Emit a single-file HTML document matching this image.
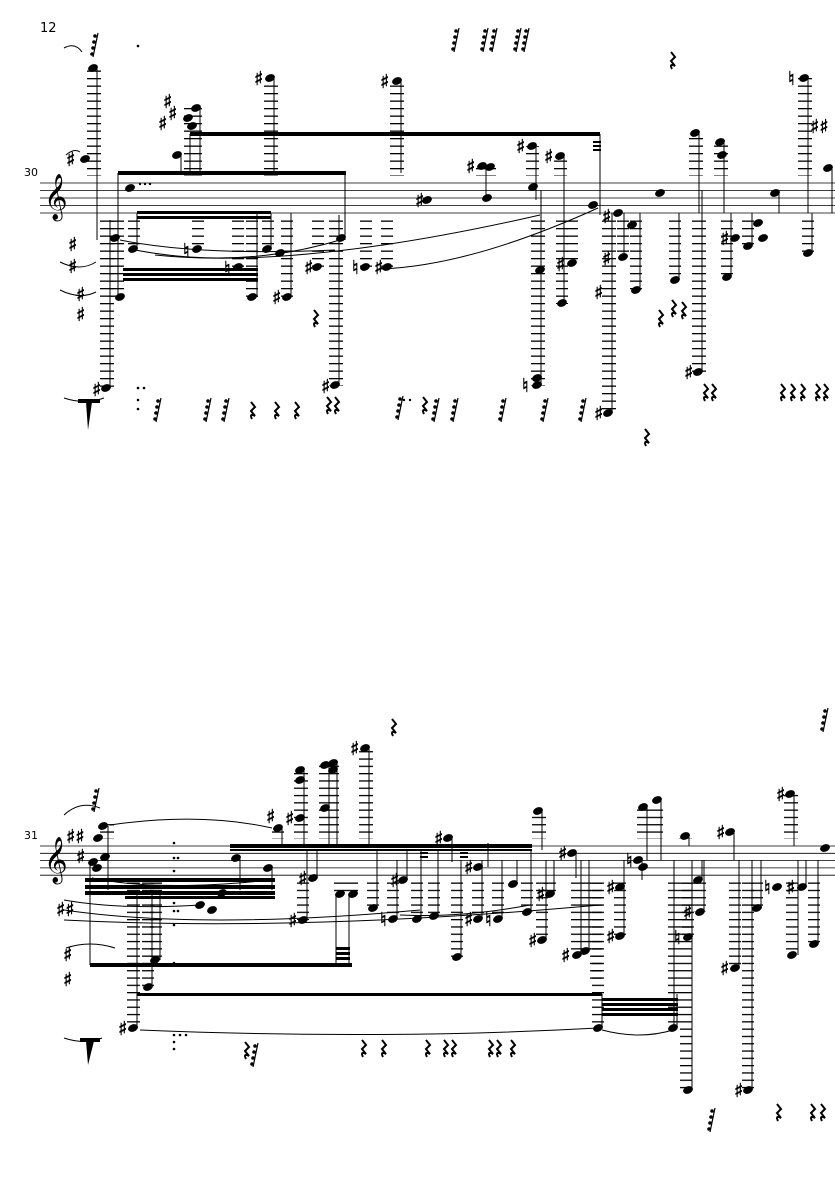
<!DOCTYPE html>
<html><head><meta charset="utf-8"><style>
html,body{margin:0;padding:0;background:#fff}
svg{display:block}
text{font-family:"DejaVu Sans","Liberation Serif",serif;fill:#000}
.acc text{stroke:#000;stroke-width:0.6}
</style></head><body>
<svg width="835" height="1181" viewBox="0 0 835 1181" xmlns="http://www.w3.org/2000/svg">
<defs>
<pattern id="L1" patternUnits="userSpaceOnUse" x="0" y="183" width="20" height="7.5"><rect x="0" y="0" width="20" height="1.3" fill="#000"/></pattern>
<pattern id="L2" patternUnits="userSpaceOnUse" x="0" y="846" width="20" height="7.3"><rect x="0" y="0" width="20" height="1.3" fill="#000"/></pattern>
<symbol id="n" overflow="visible"><ellipse cx="0" cy="0" rx="5.1" ry="3.6" transform="rotate(-22)" fill="#000"/></symbol>
<symbol id="r" overflow="visible"><path d="M-1,-8 L3,-3 L-1,1 L3,6 Q-3,3 0,9" stroke="#000" stroke-width="2" fill="none"/></symbol>
<symbol id="t" overflow="visible"><path d="M3,-12 L-2,12" stroke="#000" stroke-width="1.2"/><circle cx="0" cy="-9" r="1.8"/><circle cx="-1" cy="-3" r="1.8"/><circle cx="-2" cy="3" r="1.8"/><circle cx="-3" cy="9" r="1.8"/></symbol>
</defs>

<text x="40" y="32" font-size="13" font-family="Liberation Serif">12</text>
<text x="24" y="176" font-size="11" font-family="Liberation Serif">30</text>
<text x="24" y="839" font-size="11" font-family="Liberation Serif">31</text>

<g stroke="#000" stroke-width="0.8">
<line x1="40" y1="183" x2="835" y2="183"/><line x1="40" y1="190.5" x2="835" y2="190.5"/><line x1="40" y1="198" x2="835" y2="198"/><line x1="40" y1="205.5" x2="835" y2="205.5"/><line x1="40" y1="213" x2="835" y2="213"/>
</g>
<text x="44" y="210" font-size="40">𝄞</text>
<g stroke="#000" stroke-width="0.8">
<line x1="40" y1="846" x2="835" y2="846"/><line x1="40" y1="853.3" x2="835" y2="853.3"/><line x1="40" y1="860.6" x2="835" y2="860.6"/><line x1="40" y1="867.9" x2="835" y2="867.9"/><line x1="40" y1="875.2" x2="835" y2="875.2"/>
</g>
<text x="44" y="873" font-size="40">𝄞</text>

<g fill="url(#L1)">
<rect x="87" y="70" width="14" height="106"/>
<rect x="184" y="108" width="18" height="68"/>
<rect x="264" y="80" width="14" height="96"/>
<rect x="390" y="83" width="14" height="93"/>
<rect x="476" y="168" width="20" height="8"/>
<rect x="526" y="146" width="13" height="30"/>
<rect x="554" y="158" width="13" height="18"/>
<rect x="689" y="135" width="14" height="41"/>
<rect x="714" y="143" width="14" height="33"/>
<rect x="798" y="78" width="14" height="98"/>
<rect x="100" y="220" width="14" height="168"/>
<rect x="110" y="220" width="14" height="80"/>
<rect x="128" y="220" width="12" height="30"/>
<rect x="192" y="220" width="12" height="30"/>
<rect x="232" y="220" width="12" height="48"/>
<rect x="246" y="220" width="12" height="78"/>
<rect x="262" y="220" width="12" height="30"/>
<rect x="281" y="220" width="12" height="78"/>
<rect x="312" y="220" width="12" height="48"/>
<rect x="329" y="220" width="14" height="166"/>
<rect x="360" y="220" width="12" height="48"/>
<rect x="381" y="220" width="12" height="48"/>
<rect x="531" y="220" width="14" height="166"/>
<rect x="556" y="220" width="12" height="84"/>
<rect x="566" y="220" width="12" height="44"/>
<rect x="602" y="220" width="14" height="194"/>
<rect x="617" y="220" width="12" height="38"/>
<rect x="630" y="220" width="12" height="70"/>
<rect x="669" y="220" width="12" height="60"/>
<rect x="692" y="220" width="14" height="152"/>
<rect x="721" y="220" width="12" height="58"/>
<rect x="742" y="220" width="12" height="28"/>
<rect x="802" y="220" width="12" height="34"/>
</g>

<g>
<use href="#n" x="93" y="68"/><use href="#n" x="85" y="159"/><use href="#n" x="188" y="118"/><use href="#n" x="196" y="108"/><use href="#n" x="192" y="126"/>
<use href="#n" x="177" y="155"/><use href="#n" x="130" y="188"/><use href="#n" x="270" y="78"/><use href="#n" x="397" y="81"/>
<use href="#n" x="482" y="166"/><use href="#n" x="490" y="167"/><use href="#n" x="532" y="146"/><use href="#n" x="560" y="156"/><use href="#n" x="533" y="187"/>
<use href="#n" x="427" y="200"/><use href="#n" x="487" y="198"/><use href="#n" x="593" y="205"/><use href="#n" x="660" y="193"/>
<use href="#n" x="695" y="133"/><use href="#n" x="720" y="142"/><use href="#n" x="722" y="155"/><use href="#n" x="804" y="78"/><use href="#n" x="828" y="168"/><use href="#n" x="775" y="193"/>
<use href="#n" x="115" y="238"/><use href="#n" x="133" y="249"/><use href="#n" x="197" y="249"/><use href="#n" x="238" y="267"/><use href="#n" x="267" y="249"/><use href="#n" x="280" y="253"/>
<use href="#n" x="341" y="238"/><use href="#n" x="317" y="267"/><use href="#n" x="365" y="267"/><use href="#n" x="387" y="267"/><use href="#n" x="120" y="297"/><use href="#n" x="252" y="297"/><use href="#n" x="287" y="297"/>
<use href="#n" x="106" y="388"/><use href="#n" x="335" y="385"/><use href="#n" x="537" y="385"/><use href="#n" x="537" y="378"/><use href="#n" x="540" y="270"/><use href="#n" x="562" y="303"/><use href="#n" x="572" y="263"/>
<use href="#n" x="608" y="413"/><use href="#n" x="618" y="213"/><use href="#n" x="623" y="257"/><use href="#n" x="636" y="290"/><use href="#n" x="632" y="225"/><use href="#n" x="675" y="280"/>
<use href="#n" x="698" y="372"/><use href="#n" x="727" y="277"/><use href="#n" x="735" y="238"/><use href="#n" x="748" y="246"/><use href="#n" x="758" y="223"/><use href="#n" x="763" y="238"/><use href="#n" x="808" y="253"/>
<rect x="78" y="399" width="22" height="4"/><path d="M86,402 L92,402 L88,430 Z"/>
</g>
<g font-size="19" class="acc">
<text x="66" y="166">♯</text><text x="163" y="108">♯</text><text x="168" y="120">♯</text><text x="158" y="130">♯</text><text x="254" y="85">♯</text><text x="380" y="88">♯</text>
<text x="466" y="173">♯</text><text x="516" y="153">♯</text><text x="544" y="163">♯</text><text x="415" y="207">♯</text><text x="788" y="85">♮</text><text x="810" y="133">♯♯</text>
<text x="183" y="257">♮</text><text x="224" y="275">♮</text><text x="304" y="274">♯</text><text x="352" y="274">♮</text><text x="374" y="274">♯</text><text x="272" y="304">♯</text>
<text x="92" y="396">♯</text><text x="321" y="393">♯</text><text x="522" y="392">♮</text><text x="556" y="271">♯</text><text x="594" y="420">♯</text><text x="602" y="223">♯</text><text x="602" y="265">♯</text><text x="594" y="299">♯</text>
<text x="684" y="379">♯</text><text x="720" y="245">♯</text><text x="68" y="251">♯</text><text x="68" y="273">♯</text><text x="76" y="301">♯</text><text x="76" y="321">♯</text>
</g>
<g stroke="#000" stroke-width="1">
<line x1="97" y1="68" x2="97" y2="240"/><line x1="118" y1="173" x2="118" y2="300"/><line x1="190" y1="134" x2="190" y2="173"/><line x1="200" y1="108" x2="200" y2="175"/>
<line x1="181" y1="155" x2="181" y2="173"/><line x1="274" y1="78" x2="274" y2="173"/><line x1="345" y1="173" x2="345" y2="240"/><line x1="401" y1="81" x2="401" y2="173"/>
<line x1="600" y1="134" x2="600" y2="215"/><line x1="110" y1="220" x2="110" y2="388"/><line x1="339" y1="215" x2="339" y2="385"/><line x1="541" y1="190" x2="541" y2="385"/>
<line x1="612" y1="213" x2="612" y2="413"/><line x1="702" y1="190" x2="702" y2="372"/><line x1="699" y1="133" x2="699" y2="213"/><line x1="724" y1="142" x2="724" y2="213"/>
<line x1="808" y1="78" x2="808" y2="213"/><line x1="832" y1="168" x2="832" y2="213"/><line x1="779" y1="193" x2="779" y2="213"/><line x1="486" y1="166" x2="486" y2="200"/><line x1="536" y1="146" x2="536" y2="200"/>
<line x1="564" y1="156" x2="564" y2="300"/><line x1="137" y1="213" x2="137" y2="249"/><line x1="257" y1="213" x2="257" y2="297"/><line x1="291" y1="213" x2="291" y2="297"/><line x1="271" y1="213" x2="271" y2="249"/>
<line x1="624" y1="213" x2="624" y2="257"/><line x1="640" y1="213" x2="640" y2="290"/><line x1="679" y1="213" x2="679" y2="280"/><line x1="731" y1="213" x2="731" y2="277"/><line x1="752" y1="213" x2="752" y2="246"/><line x1="812" y1="213" x2="812" y2="253"/>
</g>
<g>
<rect x="118" y="171" width="228" height="4"/><rect x="190" y="132" width="410" height="4"/>
<rect x="137" y="211" width="134" height="3"/><rect x="137" y="216" width="134" height="3"/>
<rect x="123" y="268" width="135" height="3"/><rect x="123" y="273" width="135" height="3"/><rect x="123" y="278" width="135" height="3"/>
<rect x="593" y="141" width="8" height="2"/><rect x="593" y="145" width="8" height="2"/><rect x="593" y="149" width="8" height="2"/>
<circle cx="140" cy="184" r="1.2"/><circle cx="145" cy="184" r="1.2"/><circle cx="150" cy="184" r="1.2"/><circle cx="138" cy="46" r="1.3"/>
</g>
<g fill="none" stroke="#000" stroke-width="1">
<path d="M64,48 Q75,42 82,52"/><path d="M120,240 Q200,256 335,250"/><path d="M135,250 Q240,270 340,240"/><path d="M60,262 Q80,272 96,262"/><path d="M60,290 Q80,300 96,292"/>
<path d="M64,398 Q85,405 104,398"/><path d="M155,255 Q300,270 540,215"/><path d="M380,269 Q470,266 598,208"/><path d="M66,155 Q74,148 80,152"/>
</g>
<g>
<use href="#t" x="456" y="40"/><use href="#t" x="485" y="40"/><use href="#t" x="494" y="40"/><use href="#t" x="518" y="40"/><use href="#t" x="526" y="40"/><use href="#r" x="672" y="60"/><use href="#t" x="95" y="45"/>
<use href="#t" x="158" y="410"/><use href="#t" x="208" y="410"/><use href="#t" x="226" y="410"/><use href="#r" x="252" y="410"/><use href="#r" x="276" y="410"/><use href="#r" x="296" y="410"/>
<use href="#r" x="328" y="405"/><use href="#r" x="336" y="405"/><use href="#t" x="400" y="408"/><use href="#r" x="424" y="405"/><use href="#t" x="436" y="410"/><use href="#t" x="455" y="410"/>
<use href="#t" x="503" y="410"/><use href="#t" x="545" y="410"/><use href="#t" x="583" y="410"/><use href="#r" x="315" y="318"/><use href="#r" x="660" y="318"/><use href="#r" x="673" y="308"/><use href="#r" x="683" y="310"/>
<use href="#r" x="705" y="392"/><use href="#r" x="713" y="392"/><use href="#r" x="782" y="392"/><use href="#r" x="792" y="392"/><use href="#r" x="802" y="392"/><use href="#r" x="817" y="392"/><use href="#r" x="825" y="392"/><use href="#r" x="646" y="437"/>
<circle cx="138" cy="388" r="1.3"/><circle cx="144" cy="388" r="1.3"/><circle cx="138" cy="400" r="1.3"/><circle cx="138" cy="409" r="1.3"/><circle cx="404" cy="400" r="1.2"/><circle cx="410" cy="400" r="1.2"/>
</g>

<g fill="url(#L2)">
<rect x="100" y="822" width="14" height="17"/>
<rect x="294" y="770" width="14" height="69"/><rect x="319" y="763" width="20" height="76"/><rect x="359" y="748" width="14" height="91"/>
<rect x="532" y="811" width="14" height="28"/><rect x="637" y="807" width="26" height="32"/><rect x="784" y="794" width="14" height="45"/><rect x="679" y="836" width="13" height="3"/>
<rect x="272" y="828" width="12" height="11"/>
<rect x="127" y="882" width="13" height="146"/><rect x="142" y="882" width="12" height="105"/><rect x="150" y="882" width="12" height="78"/>
<rect x="297" y="882" width="12" height="38"/><rect x="334" y="882" width="24" height="12"/>
<rect x="367" y="882" width="12" height="26"/><rect x="387" y="882" width="12" height="37"/><rect x="411" y="882" width="12" height="37"/><rect x="428" y="882" width="12" height="34"/>
<rect x="451" y="882" width="12" height="75"/><rect x="472" y="882" width="12" height="37"/><rect x="492" y="882" width="12" height="37"/><rect x="521" y="882" width="12" height="30"/>
<rect x="536" y="882" width="12" height="58"/><rect x="544" y="882" width="12" height="12"/><rect x="571" y="882" width="20" height="73"/><rect x="590" y="882" width="12" height="100"/>
<rect x="592" y="882" width="12" height="146"/><rect x="614" y="882" width="12" height="54"/><rect x="668" y="882" width="12" height="146"/><rect x="680" y="882" width="12" height="210"/>
<rect x="682" y="882" width="12" height="55"/><rect x="694" y="882" width="12" height="30"/><rect x="729" y="882" width="12" height="86"/><rect x="742" y="882" width="12" height="210"/>
<rect x="751" y="882" width="12" height="26"/><rect x="786" y="882" width="12" height="73"/><rect x="808" y="882" width="12" height="62"/>
</g>
<g>
<use href="#n" x="103" y="826"/><use href="#n" x="98" y="838"/><use href="#n" x="93" y="862"/><use href="#n" x="97" y="868"/><use href="#n" x="105" y="857"/>
<use href="#n" x="278" y="828"/><use href="#n" x="300" y="770"/><use href="#n" x="300" y="780"/><use href="#n" x="300" y="818"/><use href="#n" x="325" y="765"/><use href="#n" x="333" y="763"/><use href="#n" x="333" y="770"/><use href="#n" x="325" y="808"/><use href="#n" x="365" y="748"/>
<use href="#n" x="236" y="858"/><use href="#n" x="268" y="868"/><use href="#n" x="313" y="878"/><use href="#n" x="303" y="920"/><use href="#n" x="340" y="894"/><use href="#n" x="353" y="894"/>
<use href="#n" x="373" y="908"/><use href="#n" x="393" y="919"/><use href="#n" x="403" y="880"/><use href="#n" x="417" y="919"/><use href="#n" x="434" y="916"/><use href="#n" x="448" y="838"/><use href="#n" x="457" y="957"/>
<use href="#n" x="478" y="867"/><use href="#n" x="478" y="919"/><use href="#n" x="498" y="919"/><use href="#n" x="513" y="884"/><use href="#n" x="527" y="912"/><use href="#n" x="538" y="811"/><use href="#n" x="550" y="894"/><use href="#n" x="542" y="940"/>
<use href="#n" x="572" y="853"/><use href="#n" x="577" y="955"/><use href="#n" x="585" y="951"/><use href="#n" x="620" y="887"/><use href="#n" x="620" y="936"/><use href="#n" x="638" y="860"/><use href="#n" x="643" y="867"/>
<use href="#n" x="643" y="807"/><use href="#n" x="657" y="800"/><use href="#n" x="685" y="836"/><use href="#n" x="730" y="832"/><use href="#n" x="688" y="937"/><use href="#n" x="700" y="912"/><use href="#n" x="698" y="880"/>
<use href="#n" x="735" y="968"/><use href="#n" x="757" y="908"/><use href="#n" x="777" y="887"/><use href="#n" x="802" y="887"/><use href="#n" x="792" y="955"/><use href="#n" x="814" y="944"/><use href="#n" x="790" y="794"/>
<use href="#n" x="133" y="1028"/><use href="#n" x="148" y="987"/><use href="#n" x="155" y="960"/><use href="#n" x="222" y="893"/><use href="#n" x="200" y="905"/><use href="#n" x="212" y="910"/>
<use href="#n" x="598" y="1028"/><use href="#n" x="673" y="1028"/><use href="#n" x="688" y="1090"/><use href="#n" x="748" y="1090"/><use href="#n" x="825" y="848"/>
<rect x="80" y="1038" width="20" height="4"/><path d="M86,1041 L94,1041 L88,1065 Z"/>
</g>
<g font-size="19" class="acc">
<text x="66" y="843">♯♯</text><text x="76" y="863">♯</text><text x="56" y="916">♯♯</text><text x="63" y="961">♯</text><text x="63" y="986">♯</text>
<text x="266" y="823">♯</text><text x="350" y="755">♯</text><text x="285" y="825">♯</text><text x="298" y="885">♯</text><text x="288" y="927">♯</text><text x="380" y="926">♮</text><text x="390" y="887">♯</text>
<text x="434" y="845">♯</text><text x="464" y="874">♯</text><text x="464" y="926">♯</text><text x="485" y="926">♮</text><text x="536" y="901">♯</text><text x="528" y="947">♯</text><text x="558" y="860">♯</text><text x="561" y="962">♯</text>
<text x="606" y="894">♯</text><text x="606" y="943">♯</text><text x="626" y="867">♮</text><text x="716" y="839">♯</text><text x="674" y="944">♮</text><text x="683" y="919">♯</text><text x="720" y="975">♯</text><text x="764" y="894">♮</text><text x="786" y="894">♯</text><text x="776" y="801">♯</text>
<text x="118" y="1035">♯</text><text x="734" y="1097">♯</text>
</g>
<g stroke="#000" stroke-width="1">
<line x1="90" y1="860" x2="90" y2="965"/><line x1="108" y1="826" x2="108" y2="890"/><line x1="137" y1="890" x2="137" y2="1028"/><line x1="152" y1="890" x2="152" y2="987"/><line x1="160" y1="890" x2="160" y2="960"/>
<line x1="240" y1="858" x2="240" y2="890"/><line x1="272" y1="868" x2="272" y2="890"/><line x1="282" y1="828" x2="282" y2="848"/><line x1="304" y1="770" x2="304" y2="848"/><line x1="329" y1="765" x2="329" y2="848"/><line x1="337" y1="763" x2="337" y2="848"/><line x1="369" y1="748" x2="369" y2="848"/>
<line x1="317" y1="850" x2="317" y2="878"/><line x1="307" y1="850" x2="307" y2="920"/><line x1="336" y1="894" x2="336" y2="963"/><line x1="349" y1="894" x2="349" y2="963"/>
<line x1="377" y1="850" x2="377" y2="908"/><line x1="397" y1="860" x2="397" y2="919"/><line x1="407" y1="850" x2="407" y2="880"/><line x1="421" y1="850" x2="421" y2="919"/><line x1="438" y1="850" x2="438" y2="916"/><line x1="452" y1="838" x2="452" y2="862"/>
<line x1="461" y1="860" x2="461" y2="957"/><line x1="482" y1="860" x2="482" y2="919"/><line x1="488" y1="843" x2="488" y2="867"/><line x1="502" y1="860" x2="502" y2="919"/><line x1="517" y1="860" x2="517" y2="884"/><line x1="531" y1="850" x2="531" y2="912"/>
<line x1="542" y1="811" x2="542" y2="850"/><line x1="546" y1="860" x2="546" y2="940"/><line x1="554" y1="860" x2="554" y2="894"/><line x1="576" y1="853" x2="576" y2="878"/><line x1="581" y1="860" x2="581" y2="955"/><line x1="589" y1="860" x2="589" y2="951"/>
<line x1="602" y1="994" x2="602" y2="1028"/><line x1="677" y1="994" x2="677" y2="1028"/><line x1="624" y1="860" x2="624" y2="936"/><line x1="642" y1="860" x2="642" y2="880"/><line x1="647" y1="807" x2="647" y2="860"/><line x1="661" y1="800" x2="661" y2="860"/>
<line x1="689" y1="836" x2="689" y2="846"/><line x1="674" y1="860" x2="674" y2="1028"/><line x1="692" y1="860" x2="692" y2="1090"/><line x1="704" y1="860" x2="704" y2="912"/><line x1="702" y1="860" x2="702" y2="880"/>
<line x1="734" y1="832" x2="734" y2="860"/><line x1="739" y1="860" x2="739" y2="968"/><line x1="752" y1="860" x2="752" y2="1090"/><line x1="761" y1="860" x2="761" y2="908"/><line x1="794" y1="794" x2="794" y2="846"/><line x1="798" y1="860" x2="798" y2="955"/><line x1="818" y1="860" x2="818" y2="944"/><line x1="806" y1="860" x2="806" y2="887"/>
</g>
<g>
<rect x="85" y="878" width="190" height="4"/><rect x="85" y="885" width="190" height="4"/><rect x="85" y="891" width="190" height="4"/><rect x="125" y="896" width="150" height="3"/>
<rect x="230" y="844" width="302" height="4"/><rect x="230" y="849" width="302" height="2"/>
<rect x="90" y="963" width="262" height="4"/><rect x="336" y="947" width="14" height="3"/><rect x="336" y="952" width="14" height="3"/><rect x="336" y="957" width="14" height="3"/>
<rect x="137" y="993" width="465" height="3"/><rect x="602" y="998" width="76" height="3"/><rect x="602" y="1003" width="76" height="3"/><rect x="602" y="1008" width="76" height="3"/><rect x="602" y="1013" width="76" height="3"/>
<rect x="420" y="852" width="8" height="2"/><rect x="420" y="856" width="8" height="2"/><rect x="460" y="852" width="8" height="2"/><rect x="460" y="856" width="8" height="2"/>
<circle cx="174" cy="843" r="1.3"/><circle cx="174" cy="858" r="1.3"/><circle cx="178" cy="858" r="1.3"/><circle cx="174" cy="871" r="1.3"/><circle cx="174" cy="903" r="1.3"/><circle cx="174" cy="911" r="1.3"/><circle cx="178" cy="911" r="1.3"/><circle cx="174" cy="925" r="1.3"/><circle cx="174" cy="963" r="1.3"/>
<circle cx="174" cy="1035" r="1.3"/><circle cx="180" cy="1035" r="1.3"/><circle cx="186" cy="1035" r="1.3"/><circle cx="174" cy="1042" r="1.3"/><circle cx="174" cy="1049" r="1.3"/>
</g>
<g fill="none" stroke="#000" stroke-width="1">
<path d="M64,815 Q80,800 100,808"/><path d="M110,825 Q200,812 272,828"/><path d="M92,878 Q160,892 270,880"/><path d="M64,900 Q120,910 200,905"/><path d="M64,910 Q200,930 420,910"/>
<path d="M64,920 Q300,932 600,905"/><path d="M66,948 Q90,940 115,948"/><path d="M64,1038 Q85,1045 102,1038"/><path d="M140,1030 Q380,1040 598,1028"/><path d="M602,1030 Q640,1040 673,1030"/><path d="M400,915 Q460,918 530,905"/>
</g>
<g>
<use href="#t" x="96" y="800"/><use href="#r" x="393" y="727"/><use href="#t" x="825" y="720"/>
<use href="#r" x="246" y="1050"/><use href="#t" x="255" y="1055"/><use href="#r" x="363" y="1048"/><use href="#r" x="383" y="1048"/><use href="#r" x="427" y="1048"/><use href="#r" x="445" y="1048"/><use href="#r" x="453" y="1048"/>
<use href="#r" x="490" y="1048"/><use href="#r" x="498" y="1048"/><use href="#r" x="512" y="1048"/><use href="#t" x="712" y="1120"/><use href="#r" x="778" y="1112"/><use href="#r" x="812" y="1112"/><use href="#r" x="822" y="1112"/>
</g>
</svg>
</body></html>
